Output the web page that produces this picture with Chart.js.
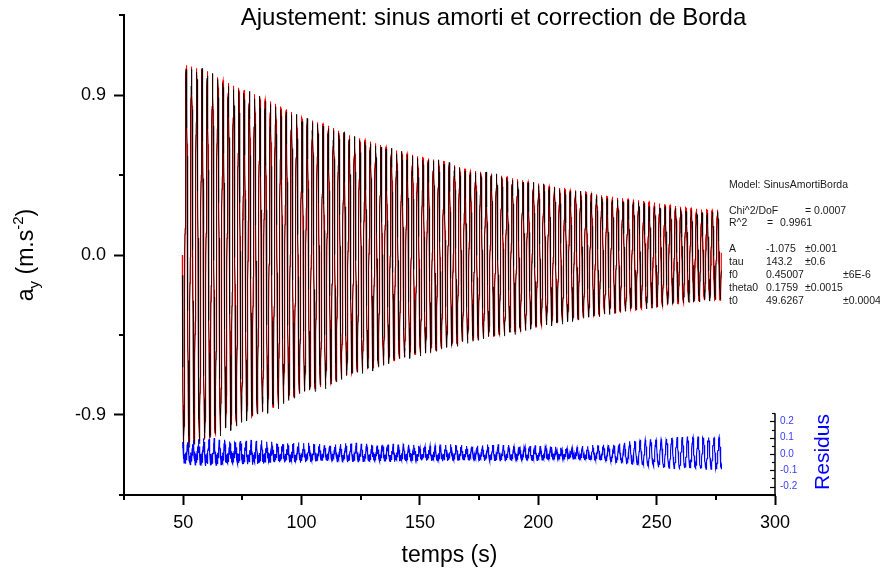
<!DOCTYPE html>
<html>
<head>
<meta charset="utf-8">
<title>Ajustement: sinus amorti et correction de Borda</title>
<script src="https://cdn.jsdelivr.net/npm/chart.js@4.4.1/dist/chart.umd.min.js"></script>
<style>
  html, body { margin: 0; padding: 0; background: #fff; }
  #wrap { width: 880px; height: 572px; }
</style>
</head>
<body>
<div id="wrap"><canvas id="c" width="880" height="572"></canvas></div>
<script>
// ---- Fit results (model SinusAmortiBorda) ----
const paramNames  = ['A', 'tau', 'f0', 'theta0', 't0'];
const paramValues = [-1.075, 143.2, 0.45007, 0.1759, 49.6267];
const paramErrors = ['±0.001', '±0.6', '±6E-6', '±0.0015', '±0.0004'];
const chi2DoF  = '0.0007';
const rSquared = '0.9961';

// ---- Oscillation peak amplitude of a_y (m.s^-2) along the record ----
const envTimes  = [49.63, 60, 70, 80, 90, 100, 110, 120, 130, 140, 150, 160, 170, 180, 190, 200, 210, 220, 230, 240, 250, 260, 270, 277.4];
const envAmps   = [1.075, 1.035, 0.96, 0.905, 0.845, 0.775, 0.735, 0.675, 0.635, 0.59, 0.552, 0.528, 0.48, 0.46, 0.43, 0.403, 0.375, 0.355, 0.328, 0.312, 0.293, 0.272, 0.255, 0.255];
// ---- Residual amplitudes (m.s^-2) at the same times ----
// fundamental, second harmonic, and fast sensor vibration
const residAmps      = [0.045, 0.045, 0.045, 0.042, 0.04, 0.035, 0.032, 0.035, 0.035, 0.032, 0.03, 0.03, 0.03, 0.03, 0.03, 0.028, 0.022, 0.028, 0.042, 0.062, 0.078, 0.088, 0.09, 0.09];
const residHarmAmps  = [0.02, 0.02, 0.018, 0.016, 0.015, 0.013, 0.012, 0.012, 0.012, 0.011, 0.01, 0.01, 0.01, 0.01, 0.01, 0.009, 0.008, 0.008, 0.008, 0.008, 0.008, 0.008, 0.008, 0.008];
const residVibAmps   = [0.035, 0.035, 0.033, 0.03, 0.026, 0.024, 0.022, 0.022, 0.022, 0.021, 0.02, 0.02, 0.02, 0.02, 0.019, 0.017, 0.016, 0.015, 0.014, 0.013, 0.012, 0.012, 0.012, 0.012];

// ---- Acquisition ----
const recordEnd   = 277.4;  // s
const sampleRate  = 10;     // Hz, measured signal
const curveRate   = 25;     // Hz, drawn model curve
const residPhase  = 1.25;   // rad, lag of the residual fundamental
const harmPhase   = 0.6;    // rad, lag of the residual harmonic
const vibFreq     = 4.3;    // Hz, fast vibration

// ---- Axes ----
const xMajorTicks   = [50, 100, 150, 200, 250, 300];
const xMinorTicks   = [25, 75, 125, 175, 225, 275];
const yMajorTicks   = [-0.9, 0, 0.9];
const yMinorTicks   = [-1.35, -0.45, 0.45, 1.35];
const resMajorTicks = [-0.2, -0.1, 0, 0.1, 0.2];
const resMinorTicks = [-0.25, -0.15, -0.05, 0.05, 0.15, 0.25];

const FAM = '"Liberation Sans", Arial, sans-serif';

function lerp(times, vals, t) {
  if (t <= times[0]) return vals[0];
  for (let i = 1; i < times.length; i++) {
    if (t <= times[i]) {
      const u = (t - times[i - 1]) / (times[i] - times[i - 1]);
      return vals[i - 1] + u * (vals[i] - vals[i - 1]);
    }
  }
  return vals[vals.length - 1];
}

const A = paramValues[0], f0 = paramValues[2], t0 = paramValues[4];
const phaseAt = t => 2 * Math.PI * f0 * (t - t0);
const modelAt = t => Math.sign(A) * lerp(envTimes, envAmps, t) * Math.sin(phaseAt(t));
const residAt = t => lerp(envTimes, residAmps, t) * Math.sin(phaseAt(t) + residPhase)
                   + lerp(envTimes, residHarmAmps, t) * Math.sin(2 * phaseAt(t) + harmPhase)
                   + lerp(envTimes, residVibAmps, t) * Math.sin(2 * Math.PI * vibFreq * t);

const fitPts = [], dataPts = [], residPts = [];
for (let i = 0; t0 + i / curveRate <= recordEnd; i++) {
  const t = t0 + i / curveRate;
  fitPts.push({ x: t, y: modelAt(t) });
}
for (let i = 0; t0 + 0.05 + i / sampleRate <= recordEnd; i++) {
  const t = t0 + 0.05 + i / sampleRate;
  const r = residAt(t);
  dataPts.push({ x: t, y: modelAt(t) + r });
  residPts.push({ x: t, y: r });
}

function seg(ctx, x1, y1, x2, y2) {
  ctx.beginPath(); ctx.moveTo(x1, y1); ctx.lineTo(x2, y2); ctx.stroke();
}

const decorations = {
  id: 'decorations',
  afterDraw(chart) {
    const { ctx, chartArea: a, scales } = chart;
    const x = scales.x, y = scales.y, r = scales.y2;
    ctx.save();

    // minor tick marks on the main axes
    ctx.strokeStyle = '#000';
    ctx.lineWidth = 2;
    xMinorTicks.forEach(v => {
      const px = Math.round(x.getPixelForValue(v));
      seg(ctx, px, a.bottom, px, a.bottom + 5);
    });
    yMinorTicks.forEach(v => {
      const py = Math.round(y.getPixelForValue(v));
      seg(ctx, a.left - 5, py, a.left, py);
    });

    // residual axis on the right, lower part only
    const rTop = r.getPixelForValue(0.25);
    ctx.lineWidth = 1.5;
    seg(ctx, a.right, rTop, a.right, a.bottom);
    ctx.lineWidth = 1.2;
    resMajorTicks.forEach(v => {
      const py = Math.round(r.getPixelForValue(v)) + 0.5;
      seg(ctx, a.right - 5, py, a.right, py);
    });
    resMinorTicks.forEach(v => {
      const py = Math.round(r.getPixelForValue(v)) + 0.5;
      seg(ctx, a.right - 3, py, a.right, py);
    });

    // title
    ctx.fillStyle = '#000';
    ctx.textAlign = 'center';
    ctx.textBaseline = 'alphabetic';
    ctx.font = '24px ' + FAM;
    ctx.fillText('Ajustement: sinus amorti et correction de Borda', 493.5, 25);

    // x title
    ctx.font = '23px ' + FAM;
    ctx.textBaseline = 'middle';
    ctx.fillText('temps (s)', (a.left + a.right) / 2, 556);

    // y title with subscript and superscript
    ctx.save();
    ctx.translate(33, (a.top + a.bottom) / 2);
    ctx.rotate(-Math.PI / 2);
    ctx.textAlign = 'left';
    ctx.textBaseline = 'alphabetic';
    const big = '23px ' + FAM, small = '15px ' + FAM;
    const parts = [['a', big, 0], ['y', small, 6], [' (m.s', big, 0], ['-2', small, -10], [')', big, 0]];
    let total = 0;
    parts.forEach(p => { ctx.font = p[1]; total += ctx.measureText(p[0]).width; });
    let cx = -total / 2;
    parts.forEach(p => {
      ctx.font = p[1];
      ctx.fillText(p[0], cx, p[2]);
      cx += ctx.measureText(p[0]).width;
    });
    ctx.restore();

    // residual axis title
    ctx.save();
    ctx.translate(823, r.getPixelForValue(0) - 2);
    ctx.rotate(-Math.PI / 2);
    ctx.fillStyle = '#0000ff';
    ctx.font = '21px ' + FAM;
    ctx.textAlign = 'center';
    ctx.textBaseline = 'middle';
    ctx.fillText('Residus', 0, 0);
    ctx.restore();

    // fit report
    ctx.fillStyle = '#1a1a1a';
    ctx.font = '10.5px ' + FAM;
    ctx.textAlign = 'left';
    ctx.textBaseline = 'middle';
    ctx.fillText('Model: SinusAmortiBorda', 729, 185);
    ctx.fillText('Chi^2/DoF', 729, 211);
    ctx.fillText('= ' + chi2DoF, 805, 211);
    ctx.fillText('R^2', 729, 223.5);
    ctx.fillText('=', 767, 223.5);
    ctx.fillText(rSquared, 780, 223.5);
    const rowY = [249.5, 262, 275, 287.7, 300.7];
    const errX = [805, 805, 843, 805, 843];
    paramNames.forEach((n, i) => {
      ctx.fillText(n, 729, rowY[i]);
      ctx.fillText(String(paramValues[i]), 766, rowY[i]);
      ctx.fillText(paramErrors[i], errX[i], rowY[i]);
    });

    ctx.restore();
  }
};

Chart.defaults.font.family = FAM;

new Chart(document.getElementById('c'), {
  type: 'line',
  data: {
    datasets: [
      { label: 'Residus', data: residPts, yAxisID: 'y2', borderColor: '#0000ff', borderWidth: 1.15, order: 0 },
      { label: 'ay', data: dataPts, yAxisID: 'y', borderColor: '#000000', borderWidth: 0.7, order: 1 },
      { label: 'fit', data: fitPts, yAxisID: 'y', borderColor: '#ff0000', borderWidth: 1.1, order: 2 }
    ]
  },
  options: {
    responsive: false,
    animation: false,
    devicePixelRatio: 1,
    parsing: false,
    normalized: true,
    layout: { padding: { top: 15, left: 0, right: 0, bottom: 0 } },
    elements: { point: { radius: 0 }, line: { tension: 0, fill: false } },
    plugins: { legend: { display: false }, tooltip: { enabled: false }, title: { display: false } },
    scales: {
      x: {
        type: 'linear', position: 'bottom', min: 25, max: 300,
        afterBuildTicks: s => { s.ticks = [...xMajorTicks, ...xMinorTicks].sort((p, q) => p - q).map(v => ({ value: v })); },
        afterFit: s => { s.height = 77; },
        grid: {
          drawOnChartArea: false, drawTicks: true, tickLength: 10, tickWidth: 2,
          tickColor: c => (c.tick && xMajorTicks.includes(c.tick.value)) ? '#000' : 'rgba(0,0,0,0)'
        },
        border: { display: true, color: '#000', width: 2 },
        ticks: {
          autoSkip: false, maxRotation: 0, padding: 7, color: '#000', font: { size: 18 },
          callback: v => xMajorTicks.includes(v) ? String(v) : null
        }
      },
      y: {
        type: 'linear', position: 'left', min: -1.35, max: 1.35,
        afterBuildTicks: s => { s.ticks = [...yMajorTicks, ...yMinorTicks].sort((p, q) => p - q).map(v => ({ value: v })); },
        afterFit: s => { s.width = 124; },
        grid: {
          drawOnChartArea: false, drawTicks: true, tickLength: 10, tickWidth: 2,
          tickColor: c => (c.tick && yMajorTicks.includes(c.tick.value)) ? '#000' : 'rgba(0,0,0,0)'
        },
        border: { display: true, color: '#000', width: 2 },
        ticks: {
          autoSkip: false, padding: 8, color: '#000', font: { size: 18, lineHeight: 0.6 },
          callback: v => yMajorTicks.includes(v) ? v.toFixed(1) : null
        }
      },
      y2: {
        type: 'linear', position: 'right', min: -0.2515, max: 2.693,
        afterBuildTicks: s => { s.ticks = resMajorTicks.map(v => ({ value: v })); },
        afterFit: s => { s.width = 105; },
        grid: { display: false, drawTicks: false, drawOnChartArea: false },
        border: { display: false },
        ticks: {
          autoSkip: false, padding: 5, color: '#3a3aff', font: { size: 10 },
          callback: v => v.toFixed(1)
        }
      }
    }
  },
  plugins: [decorations]
});
</script>
</body>
</html>
